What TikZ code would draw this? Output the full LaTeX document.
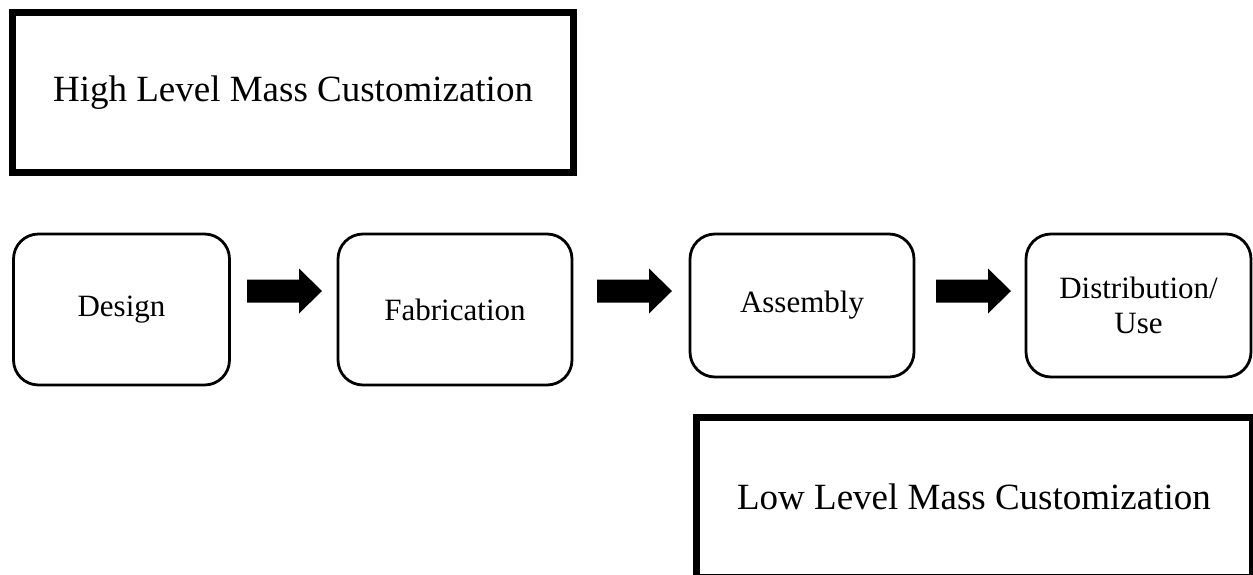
\documentclass[tikz,border=0pt]{standalone}
\usepackage{fontspec}
\setmainfont{Liberation Serif}
\begin{document}
\begin{tikzpicture}[x=1pt,y=-1pt,
  stage/.style={draw, line width=2.8pt, rounded corners=25pt, inner sep=0pt, align=center,
    font=\fontsize{31}{35}\selectfont},
  level/.style={draw, line width=7pt, inner sep=0pt, font=\fontsize{37}{44}\selectfont},
  blockarr/.pic={\fill (0,-11.5) -- (52,-11.5) -- (52,-22.5) -- (75,0) -- (52,22.5) -- (52,11.5) -- (0,11.5) -- cycle;}]
\useasboundingbox (0,0) rectangle (1253,574);
\clip (0,0) rectangle (1253,574);

\node[level, minimum width=561pt, minimum height=160pt] (high) at (293,92.5) {High Level Mass Customization};

\node[stage, minimum width=216pt, minimum height=151pt] (design) at (121.5,309.5) {Design};
\node[stage, minimum width=234pt, minimum height=151pt] (fab) at (455,309.5) {Fabrication};
\node[stage, minimum width=224pt, minimum height=143pt] (asm) at (802,305.5) {Assembly};
\node[stage, minimum width=225pt, minimum height=143pt] (dist) at (1138.5,305.5) {Distribution/\\Use};

\node[level, minimum width=556pt, minimum height=160pt] (low) at (974,497) {Low Level Mass Customization};

\coordinate (a1) at (247,291);
\coordinate (a2) at (597,291);
\coordinate (a3) at (936,291);
\pic at (a1) {blockarr};
\pic at (a2) {blockarr};
\pic at (a3) {blockarr};
\end{tikzpicture}
\end{document}
